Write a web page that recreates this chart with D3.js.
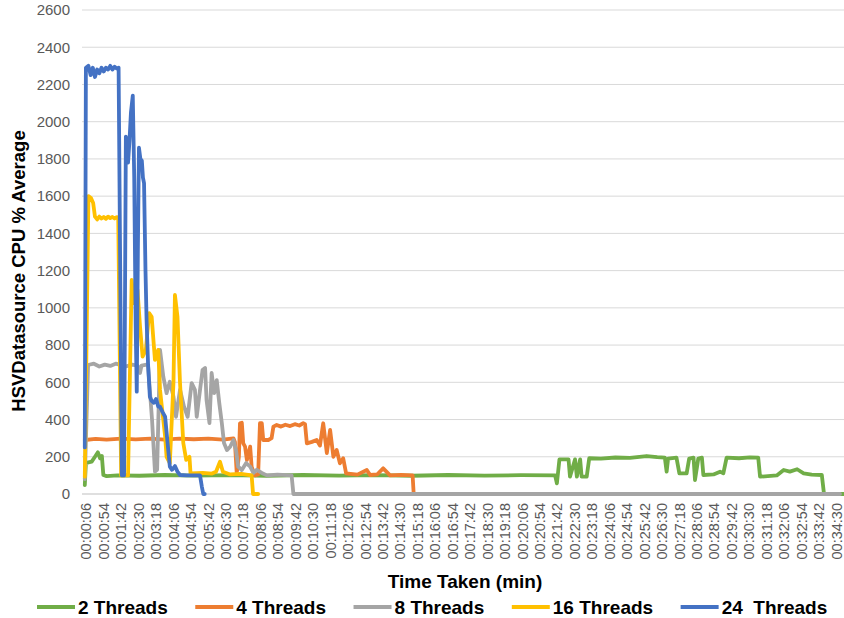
<!DOCTYPE html>
<html>
<head>
<meta charset="utf-8">
<script src="https://cdn.jsdelivr.net/npm/d3@7"></script>
<style>
  html, body { margin: 0; padding: 0; background: #fff; }
  svg { display: block; font-family: "Liberation Sans", Arial, sans-serif; }
</style>
</head>
<body>
<svg id="chart" width="844" height="618"></svg>
<script>
// ---- Data (time in seconds, CPU % average) ----
const seriesNames = ["2 Threads", "4 Threads", "8 Threads", "16 Threads", "24  Threads"];
const seriesColors = ["#70AD47", "#ED7D31", "#A5A5A5", "#FFC000", "#4472C4"];

const threads2 = [
  [0,48],[3,166],[10,170],[19,174],[28,200],[36,224],[42,192],[47,204],[51,102],[60,96],[90,100],
  [150,98],[220,102],[300,99],[400,101],[500,98],[600,102],[700,99],[800,101],[900,98],[1000,102],
  [1100,99],[1200,101],[1294,100],[1299,57],[1306,186],[1331,186],[1335,93],[1349,186],[1354,93],
  [1363,186],[1367,93],[1381,93],[1388,192],[1420,190],[1460,196],[1500,194],[1546,204],[1575,198],
  [1596,195],[1601,120],[1605,190],[1628,195],[1636,111],[1656,111],[1663,190],[1675,195],[1679,75],
  [1688,190],[1698,195],[1702,102],[1730,105],[1748,120],[1757,111],[1766,195],[1800,192],[1830,197],
  [1853,195],[1858,93],[1904,100],[1923,129],[1940,120],[1960,133],[1978,111],[2000,104],[2028,102],
  [2034,0],[2089,0]
];

const threads4 = [
  [0,290],[30,296],[60,292],[100,298],[140,293],[180,297],[220,292],[260,298],[300,294],[340,297],
  [380,292],[409,299],[413,280],[418,113],[424,200],[427,380],[432,383],[436,272],[441,254],[446,183],
  [455,254],[459,147],[468,100],[477,105],[482,380],[487,381],[491,290],[505,290],[514,300],[519,362],
  [528,371],[540,362],[552,372],[565,365],[578,375],[590,368],[601,380],[606,375],[611,272],[625,280],
  [638,290],[647,260],[656,380],[666,220],[675,344],[684,200],[693,236],[702,165],[711,192],[719,111],
  [750,104],[776,129],[785,102],[805,106],[821,138],[840,100],[870,103],[902,100],[905,0]
];

const threads8 = [
  [0,80],[9,693],[25,700],[40,685],[55,695],[70,688],[85,700],[100,692],[115,686],[130,695],[145,690],
  [152,650],[156,690],[170,695],[174,690],[185,400],[193,120],[199,130],[207,774],[216,630],[225,542],
  [234,603],[244,523],[251,415],[262,560],[273,469],[283,415],[294,596],[303,559],[308,415],[317,559],
  [324,666],[331,677],[335,505],[343,381],[349,650],[356,542],[363,612],[370,489],[377,381],[383,274],
  [391,236],[400,254],[409,290],[416,236],[422,147],[432,129],[444,166],[455,147],[464,113],[473,130],
  [487,113],[501,100],[530,104],[569,100],[574,0],[2078,0]
];

const threads16 = [
  [0,93],[10,1600],[17,1590],[23,1563],[28,1490],[34,1475],[40,1490],[46,1480],[52,1488],[58,1478],
  [64,1490],[70,1482],[76,1488],[82,1480],[88,1487],[92,1485],[100,100],[119,100],[129,1150],[135,1026],
  [145,1096],[152,899],[159,738],[168,774],[177,972],[184,952],[193,720],[202,774],[207,559],[212,469],
  [221,308],[225,200],[234,166],[244,600],[248,1069],[255,952],[262,596],[271,274],[279,183],[288,200],
  [291,110],[325,113],[350,110],[361,120],[372,173],[380,120],[400,105],[430,108],[459,100],[463,0],[477,0]
];

const threads24 = [
  [0,250],[3,2290],[10,2300],[16,2250],[22,2290],[28,2240],[34,2280],[40,2260],[46,2290],[52,2270],
  [58,2290],[64,2280],[70,2300],[76,2280],[82,2295],[88,2285],[93,2290],[102,100],[108,100],[113,1920],
  [116,1850],[119,1780],[123,1900],[127,2050],[132,2140],[136,1700],[140,900],[143,550],[146,1300],
  [149,1860],[153,1800],[157,1790],[160,1700],[163,1670],[167,1200],[170,935],[174,700],[179,523],
  [184,500],[190,490],[196,510],[202,470],[207,469],[214,440],[221,415],[227,290],[234,147],[240,130],
  [248,150],[255,120],[262,102],[280,100],[300,100],[317,100],[322,40],[326,0],[330,0]
];

const allSeries = [threads2, threads4, threads8, threads16, threads24];

const yTicks = [0,200,400,600,800,1000,1200,1400,1600,1800,2000,2200,2400,2600];

const xTickLabels = [
  "00:00:06","00:00:54","00:01:42","00:02:30","00:03:18","00:04:06","00:04:54","00:05:42",
  "00:06:30","00:07:18","00:08:06","00:08:54","00:09:42","00:10:30","00:11:18","00:12:06",
  "00:12:54","00:13:42","00:14:30","00:15:18","00:16:06","00:16:54","00:17:42","00:18:30",
  "00:19:18","00:20:06","00:20:54","00:21:42","00:22:30","00:23:18","00:24:06","00:24:54",
  "00:25:42","00:26:30","00:27:18","00:28:06","00:28:54","00:29:42","00:30:30","00:31:18",
  "00:32:06","00:32:54","00:33:42","00:34:30"
];

const yTitle = "HSVDatasource CPU % Average";
const xTitle = "Time Taken (min)";

// ---- Drawing ----
const svg = d3.select("#chart");
const plotLeft = 82, plotRight = 844, plotTop = 10, plotBottom = 494;

const x = d3.scaleLinear().domain([0, 2089]).range([84.8, 844]);
const y = d3.scaleLinear().domain([0, 2600]).range([plotBottom, plotTop]);

const toSec = s => { const p = s.split(":").map(Number); return p[0]*3600 + p[1]*60 + p[2]; };

// gridlines
svg.append("g").selectAll("line").data(yTicks.filter(d => d > 0)).join("line")
  .attr("x1", plotLeft).attr("x2", plotRight)
  .attr("y1", d => y(d)).attr("y2", d => y(d))
  .attr("stroke", "#D9D9D9").attr("stroke-width", 1);

// x axis baseline
svg.append("line").attr("x1", plotLeft).attr("x2", plotRight)
  .attr("y1", y(0)).attr("y2", y(0)).attr("stroke", "#BFBFBF").attr("stroke-width", 1);

// y axis labels
const yAxis = d3.axisLeft(y).tickValues(yTicks).tickSize(0).tickPadding(0).tickFormat(d3.format("d"));
const yg = svg.append("g").attr("transform", "translate(70,0)").call(yAxis);
yg.select(".domain").remove();
yg.selectAll("text").attr("font-size", 15).attr("fill", "#595959")
  .attr("font-family", "'Liberation Sans', Arial, sans-serif");

// x axis labels (rotated)
const xAxis = d3.axisBottom(x).tickValues(xTickLabels.map(toSec))
  .tickSize(0).tickPadding(0).tickFormat((d, i) => xTickLabels[i]);
const xg = svg.append("g").attr("transform", `translate(0,${plotBottom})`).call(xAxis);
xg.select(".domain").remove();
xg.selectAll("text")
  .attr("font-size", 14.5).attr("fill", "#595959")
  .attr("font-family", "'Liberation Sans', Arial, sans-serif")
  .attr("text-anchor", "end")
  .attr("transform", "translate(-0.8,9) rotate(-90)")
  .attr("x", 0).attr("y", 0).attr("dy", "0.33em");

// lines
const line = d3.line().x(d => x(d[0])).y(d => y(d[1])).curve(d3.curveLinear);
svg.append("g").selectAll("path").data(allSeries).join("path")
  .attr("d", line)
  .attr("fill", "none")
  .attr("stroke", (d, i) => seriesColors[i])
  .attr("stroke-width", 3.8)
  .attr("stroke-linejoin", "round")
  .attr("stroke-linecap", "round");

// axis titles
svg.append("text").attr("x", 465).attr("y", 588).attr("text-anchor", "middle")
  .attr("font-size", 19).attr("font-weight", "bold").attr("fill", "#000").text(xTitle);
svg.append("text").attr("transform", "translate(25,271) rotate(-90)").attr("text-anchor", "middle")
  .attr("font-size", 18.5).attr("font-weight", "bold").attr("fill", "#000").text(yTitle);

// legend
const legend = svg.append("g");
let lx = 37;
seriesNames.forEach((name, i) => {
  legend.append("line").attr("x1", lx).attr("x2", lx + 38).attr("y1", 607).attr("y2", 607)
    .attr("stroke", seriesColors[i]).attr("stroke-width", 4);
  const t = legend.append("text").attr("x", lx + 41).attr("y", 607).attr("dy", "0.35em")
    .attr("font-size", 19).attr("font-weight", "bold").attr("fill", "#000")
    .style("white-space", "pre").text(name);
  lx += 41 + t.node().getComputedTextLength() + 27.5;
});
</script>
</body>
</html>
